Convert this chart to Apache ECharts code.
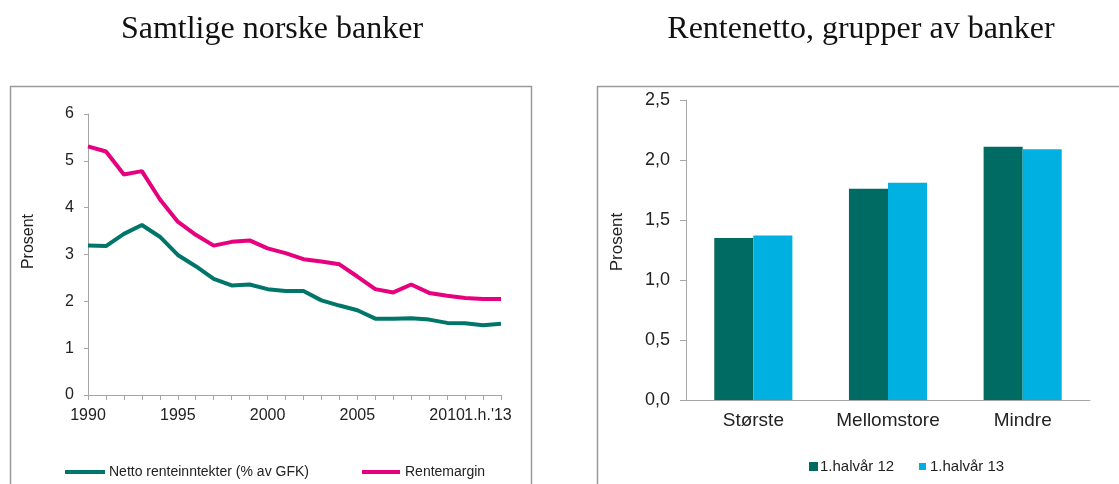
<!DOCTYPE html>
<html><head><meta charset="utf-8">
<script src="https://cdn.jsdelivr.net/npm/echarts@6/dist/echarts.min.js"></script>
<style>html,body{margin:0;padding:0;background:#fff}#c{width:1119px;height:484px}</style>
</head><body><div id="c"></div>
<script>
const years = ["1990","1991","1992","1993","1994","1995","1996","1997","1998","1999","2000","2001","2002","2003","2004","2005","2006","2007","2008","2009","2010","2011","2012","1.h.'13"];
const netto = [3.19,3.18,3.44,3.63,3.38,2.99,2.75,2.48,2.34,2.36,2.26,2.22,2.22,2.02,1.91,1.81,1.63,1.63,1.64,1.61,1.54,1.53,1.49,1.52];
const rentemargin = [5.31,5.20,4.71,4.78,4.18,3.70,3.42,3.19,3.27,3.30,3.13,3.03,2.90,2.85,2.79,2.53,2.26,2.19,2.36,2.18,2.12,2.07,2.05,2.05];
const groups = ["Største","Mellomstore","Mindre"];
const h12 = [1.35,1.76,2.11];
const h13 = [1.37,1.81,2.09];
const lineNames = ["Netto renteinntekter (% av GFK)","Rentemargin"];
const barNames = ["1.halvår 12","1.halvår 13"];

const green = '#00766A', pink = '#E6007E', dark = '#006B63', light = '#00B0E0';
const axisCol = '#A6A6A6', txt = '#222';
const F = 'Liberation Sans';
const chart = echarts.init(document.getElementById('c'));
chart.setOption({
  animation:false,
  title:[
    {text:'Samtlige norske banker', left:267, top:9, textAlign:'center',
     textStyle:{fontFamily:'Liberation Serif',fontSize:32,fontWeight:'normal',color:'#111'}},
    {text:'Rentenetto, grupper av banker', left:856, top:9, textAlign:'center',
     textStyle:{fontFamily:'Liberation Serif',fontSize:32,fontWeight:'normal',color:'#111'}}
  ],
  graphic:[
    {type:'rect',shape:{x:10.5,y:86.5,width:521,height:410},style:{fill:'none',stroke:'#9a9a9a',lineWidth:1.5}},
    {type:'rect',shape:{x:597.5,y:86.5,width:540,height:410},style:{fill:'none',stroke:'#9a9a9a',lineWidth:1.5}}
  ],
  legend:[
    {data:[lineNames[0]], left:65, top:465, padding:0, icon:'rect', itemWidth:40, itemHeight:4, itemGap:0,
     textStyle:{fontFamily:F,fontSize:14,color:txt,padding:[0,0,0,-1]}},
    {data:[lineNames[1]], left:362, top:465, padding:0, icon:'rect', itemWidth:38, itemHeight:4, itemGap:0,
     textStyle:{fontFamily:F,fontSize:14,color:txt,padding:[0,0,0,0]}},
    {data:[barNames[0]], left:809, top:459, padding:0, icon:'rect', itemWidth:9, itemHeight:9, itemGap:0,
     textStyle:{fontFamily:F,fontSize:15,color:txt,padding:[0,0,0,-3]}},
    {data:[barNames[1]], left:919, top:459, padding:0, icon:'rect', itemWidth:7, itemHeight:7, itemGap:0,
     textStyle:{fontFamily:F,fontSize:15,color:txt,padding:[0,0,0,-1]}}
  ],
  grid:[
    {left:88, top:114, width:413, height:281},
    {left:686, top:100, width:404, height:300}
  ],
  xAxis:[
    {type:'category', gridIndex:0, data:years, boundaryGap:false,
     axisLine:{lineStyle:{color:axisCol,width:1}},
     axisTick:{interval:0, length:5, lineStyle:{color:axisCol}},
     axisLabel:{interval:0, color:txt, fontFamily:F, fontSize:16, margin:13,
       formatter:(v,i)=> i===years.length-1 ? '{l|'+v+'}' : (i%5===0 ? v : ''),
       rich:{l:{fontFamily:F,fontSize:16,color:txt,padding:[0,26,0,0]}}}},
    {type:'category', gridIndex:1, data:groups,
     axisLine:{lineStyle:{color:axisCol,width:1}},
     axisTick:{length:5, lineStyle:{color:axisCol}},
     axisLabel:{color:txt, fontFamily:F, fontSize:19, margin:11}}
  ],
  yAxis:[
    {type:'value', gridIndex:0, min:0, max:6, interval:1, name:'Prosent', nameLocation:'middle', nameGap:51,
     nameTextStyle:{fontFamily:F,fontSize:16,color:txt,padding:[0,0,0,26]},
     axisLine:{show:true,lineStyle:{color:axisCol}}, axisTick:{show:true,length:4,lineStyle:{color:axisCol}},
     splitLine:{show:false},
     axisLabel:{color:txt,fontFamily:F,fontSize:16,margin:14}},
    {type:'value', gridIndex:1, min:0, max:2.5, interval:0.5, name:'Prosent', nameLocation:'middle', nameGap:60,
     nameTextStyle:{fontFamily:F,fontSize:17,color:txt,padding:[0,0,0,16]},
     axisLine:{show:true,lineStyle:{color:axisCol}}, axisTick:{show:true,length:6,lineStyle:{color:axisCol}},
     splitLine:{show:false},
     axisLabel:{color:txt,fontFamily:F,fontSize:18,margin:16,
       formatter:v=>v.toFixed(1).replace('.',',')}}
  ],
  series:[
    {name:lineNames[0], type:'line', xAxisIndex:0, yAxisIndex:0, data:netto, symbol:'none',
     lineStyle:{color:green,width:4}, itemStyle:{color:green}},
    {name:lineNames[1], type:'line', xAxisIndex:0, yAxisIndex:0, data:rentemargin, symbol:'none',
     lineStyle:{color:pink,width:4}, itemStyle:{color:pink}},
    {name:barNames[0], type:'bar', xAxisIndex:1, yAxisIndex:1, data:h12, barGap:'0%', barCategoryGap:'42%',
     itemStyle:{color:dark}},
    {name:barNames[1], type:'bar', xAxisIndex:1, yAxisIndex:1, data:h13, barGap:'0%', barCategoryGap:'42%',
     itemStyle:{color:light}}
  ]
});
</script></body></html>
